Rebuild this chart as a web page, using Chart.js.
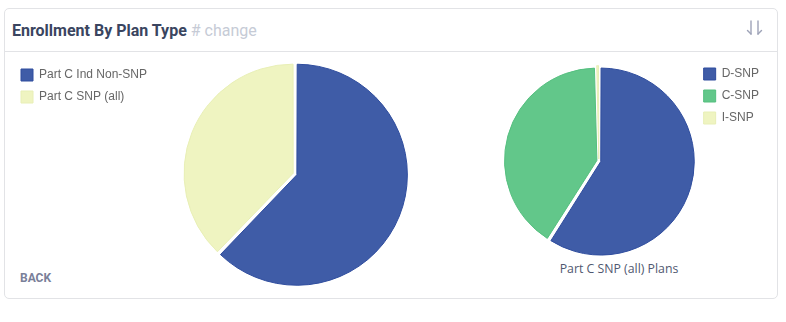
<!DOCTYPE html>
<html>
<head>
<meta charset="utf-8">
<script src="https://cdn.jsdelivr.net/npm/chart.js@4.4.1/dist/chart.umd.min.js"></script>
<style>
  html, body { margin: 0; padding: 0; background: #ffffff; }
  body { width: 786px; height: 322px; position: relative; overflow: hidden; font-family: Roboto, "Liberation Sans", Arial, sans-serif; }
  .card { position: absolute; left: 4px; top: 8px; width: 774px; height: 291px; border: 1px solid #e2e3e6; border-radius: 5px; box-sizing: border-box; }
  .head { position: absolute; left: 0; top: 0; right: 0; height: 42px; border-bottom: 1px solid #e2e3e6; }
  .title { position: absolute; left: 7px; top: 12px; font-size: 16px; font-weight: 700; color: #3a4560; white-space: nowrap; }
  .title span { font-weight: 400; color: #c6cbd6; }
  .sort { position: absolute; left: 740px; top: 10px; }
  .back { position: absolute; left: 15px; top: 262px; font-size: 12px; font-weight: 700; color: #7a8099; }
  .caption { position: absolute; left: 519px; width: 200px; top: 260px; text-align: center; font-family: "Open Sans", Roboto, sans-serif; font-size: 12.3px; color: #505870; }
  canvas { position: absolute; }
</style>
</head>
<body>
<div class="card">
  <div class="head">
    <div class="title">Enrollment By Plan Type <span># change</span></div>
    <svg class="sort" width="20" height="20" viewBox="0 0 20 20">
      <g stroke="#9ea3b8" stroke-width="1.4" fill="none" stroke-linecap="round">
        <line x1="6" y1="2" x2="6" y2="15"/>
        <polyline points="2.5,11.5 6,15"/>
        <line x1="13" y1="2" x2="13" y2="15"/>
        <polyline points="16.5,11.5 13,15"/>
      </g>
    </svg>
  </div>
  <div class="back">BACK</div>
</div>
<div id="left" style="position:absolute;left:10px;top:61px;width:470px;height:226px;"><canvas id="planChart"></canvas></div>
<div id="right" style="position:absolute;left:499px;top:65px;width:275px;height:192px;"><canvas id="snpChart"></canvas></div>
<div class="caption">Part C SNP (all) Plans</div>
<script>
// Enrollment split: individual non-SNP plans vs. all SNP plans (percent)
const planLabels = ['Part C Ind Non-SNP', 'Part C SNP (all)'];
const planValues = [62.2, 37.8];

// Breakdown of the SNP plans by type (percent)
const snpLabels = ['D-SNP', 'C-SNP', 'I-SNP'];
const snpValues = [59.0, 40.6, 0.4];

const blue = '#3f5ca7', blueEdge = '#2f4d9e';
const yellow = '#eff4c1', yellowEdge = '#e8efb6';
const green = '#62c78a', greenEdge = '#55bf7f';

Chart.defaults.font.family = "'Liberation Sans', Arial, sans-serif";
Chart.defaults.color = '#666';

// Small helper: slide the legend box after layout so it sits apart from the pie area
const legendNudge = {
  id: 'legendNudge',
  afterLayout(chart, args, opts) {
    const lg = chart.legend;
    if (!lg) return;
    const dx = opts.x || 0, dy = opts.y || 0;
    lg.left += dx; lg.right += dx;
    lg.top += dy; lg.bottom += dy;
  }
};

const legendLabels = { boxWidth: 12, boxHeight: 12, font: { size: 12 }, padding: 10 };

new Chart(document.getElementById('planChart'), {
  type: 'pie',
  data: {
    labels: planLabels,
    datasets: [{
      data: planValues,
      backgroundColor: [blue, yellow],
      borderColor: [blueEdge, yellowEdge],
      borderWidth: 1,
      offset: 8
    }]
  },
  options: {
    responsive: true,
    maintainAspectRatio: false,
    animation: false,
    layout: { padding: { right: 46 } },
    plugins: {
      legend: { position: 'left', align: 'start', labels: legendLabels },
      legendNudge: { x: 1, y: -2 },
      tooltip: { enabled: false }
    }
  },
  plugins: [legendNudge]
});

new Chart(document.getElementById('snpChart'), {
  type: 'pie',
  data: {
    labels: snpLabels,
    datasets: [{
      data: snpValues,
      backgroundColor: [blue, green, yellow],
      borderColor: [blueEdge, greenEdge, yellowEdge],
      borderWidth: 1,
      offset: 8
    }]
  },
  options: {
    responsive: true,
    maintainAspectRatio: false,
    animation: false,
    plugins: {
      legend: { position: 'right', align: 'start', labels: legendLabels },
      legendNudge: { x: -5, y: -7 },
      tooltip: { enabled: false }
    }
  },
  plugins: [legendNudge]
});
</script>
</body>
</html>
